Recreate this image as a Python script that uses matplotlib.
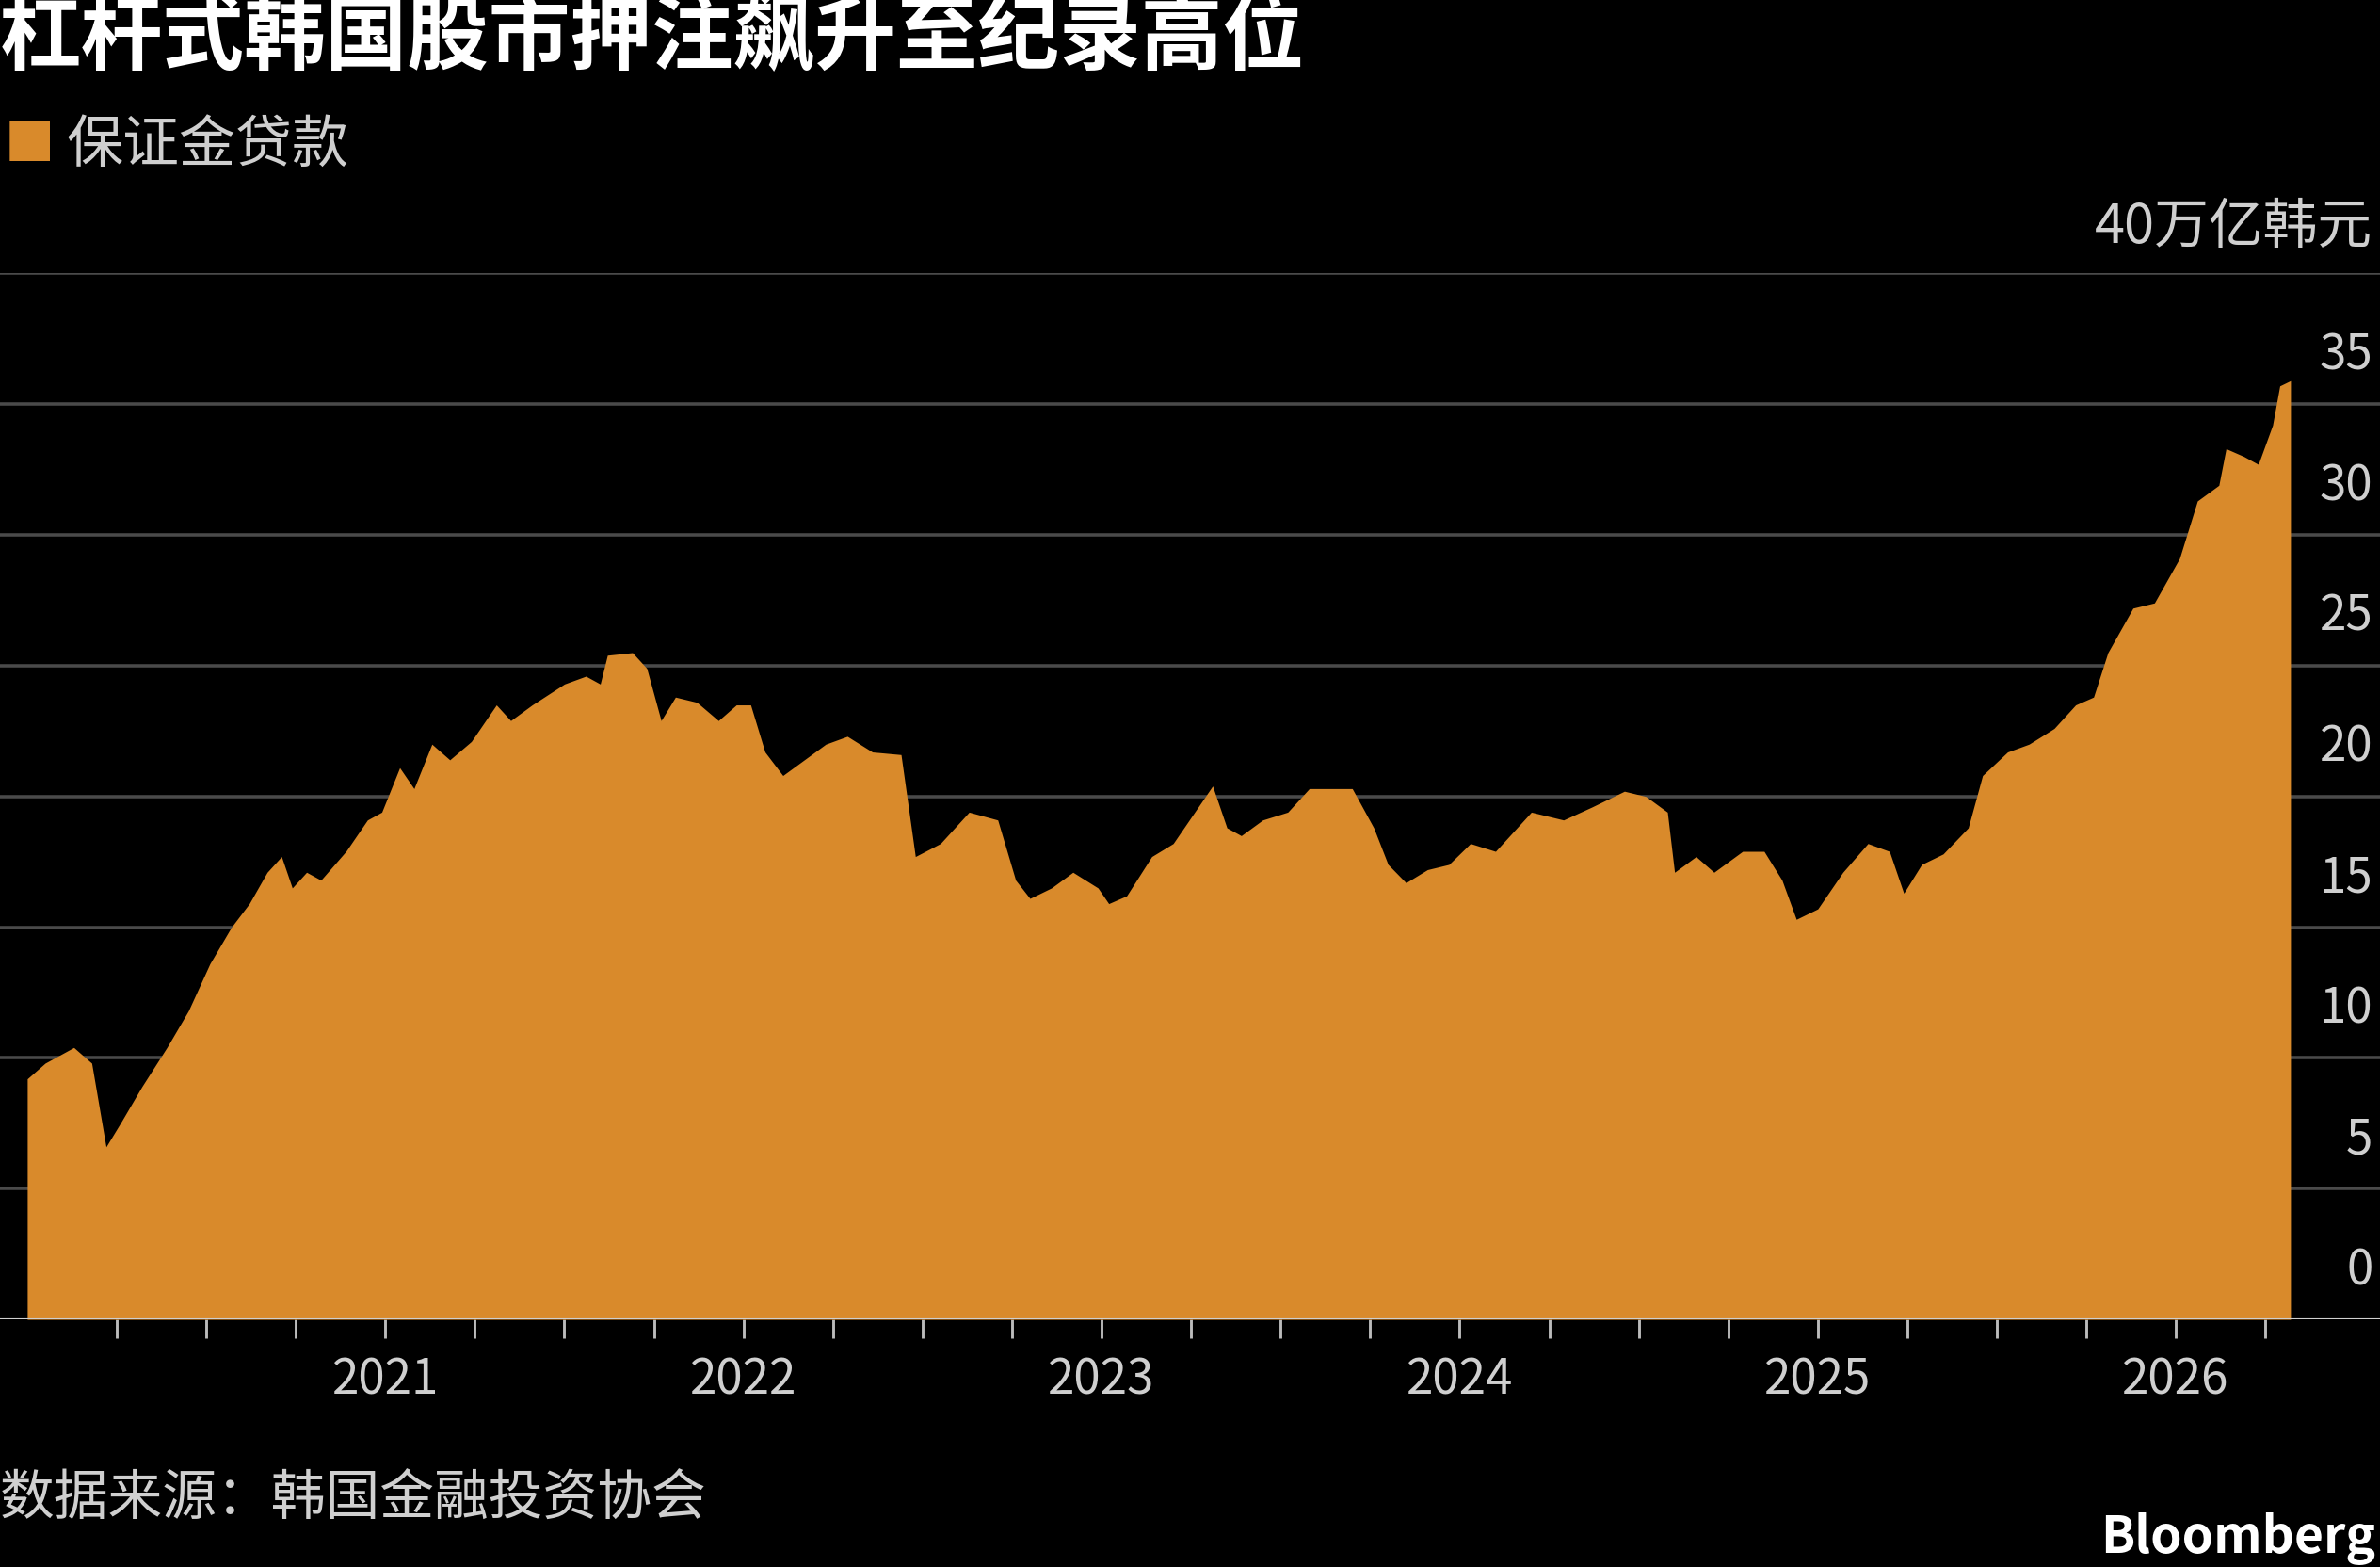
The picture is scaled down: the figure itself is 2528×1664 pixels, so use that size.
import matplotlib.pyplot as plt
import numpy as np

plt.rcParams['font.family'] = ['Noto Sans CJK SC', 'DejaVu Sans']

# decimal year, margin loans (trillion won)
years = [2020.00, 2020.05, 2020.13, 2020.18, 2020.22, 2020.26, 2020.32, 2020.39, 2020.45, 2020.51,
         2020.57, 2020.62, 2020.67, 2020.71, 2020.74, 2020.78, 2020.82, 2020.89, 2020.95, 2020.99,
         2021.04, 2021.08, 2021.13, 2021.18, 2021.24, 2021.31, 2021.35, 2021.41, 2021.50, 2021.56,
         2021.60, 2021.62, 2021.69, 2021.73, 2021.77, 2021.81, 2021.87, 2021.93, 2021.98, 2022.02,
         2022.06, 2022.11, 2022.17, 2022.23, 2022.29, 2022.36, 2022.44, 2022.48, 2022.55, 2022.63,
         2022.71, 2022.76, 2022.80, 2022.86, 2022.92, 2022.99, 2023.02, 2023.07, 2023.14, 2023.20,
         2023.26, 2023.31, 2023.35, 2023.39, 2023.45, 2023.52, 2023.58, 2023.64, 2023.70, 2023.76,
         2023.80, 2023.85, 2023.91, 2023.97, 2024.03, 2024.10, 2024.14, 2024.20, 2024.29, 2024.37,
         2024.46, 2024.52, 2024.58, 2024.60, 2024.66, 2024.71, 2024.79, 2024.85, 2024.90, 2024.94,
         2025.00, 2025.07, 2025.14, 2025.20, 2025.24, 2025.29, 2025.35, 2025.42, 2025.46, 2025.53,
         2025.59, 2025.66, 2025.72, 2025.77, 2025.81, 2025.88, 2025.94, 2026.01, 2026.06, 2026.12,
         2026.14, 2026.19, 2026.23, 2026.27, 2026.29, 2026.32]
loans = [9.2, 9.8, 10.4, 9.8, 6.6, 7.5, 8.9, 10.4, 11.8, 13.6,
         15.0, 15.9, 17.1, 17.7, 16.5, 17.1, 16.8, 17.9, 19.1, 19.4,
         21.1, 20.3, 22.0, 21.4, 22.1, 23.5, 22.9, 23.5, 24.3, 24.6,
         24.3, 25.4, 25.5, 24.9, 22.9, 23.8, 23.6, 22.9, 23.5, 23.5,
         21.7, 20.8, 21.4, 22.0, 22.3, 21.7, 21.6, 17.7, 18.2, 19.4,
         19.1, 16.8, 16.1, 16.5, 17.1, 16.5, 15.9, 16.2, 17.7, 18.2,
         19.4, 20.4, 18.8, 18.5, 19.1, 19.4, 20.3, 20.3, 20.3, 18.8,
         17.4, 16.7, 17.2, 17.4, 18.2, 17.9, 18.5, 19.4, 19.1, 19.6,
         20.2, 20.0, 19.4, 17.1, 17.7, 17.1, 17.9, 17.9, 16.8, 15.3,
         15.7, 17.1, 18.2, 17.9, 16.3, 17.4, 17.8, 18.8, 20.8, 21.7,
         22.0, 22.6, 23.5, 23.8, 25.5, 27.2, 27.4, 29.1, 31.3, 31.9,
         33.3, 33.0, 32.7, 34.2, 35.7, 35.9]
year_labels = ['2021', '2022', '2023', '2024', '2025', '2026']
y_ticks = [0, 5, 10, 15, 20, 25, 30, 35]

ORANGE = '#D98A2B'
GRID = '#4a4a4a'
TEXT = '#cfcfcf'

fig = plt.figure(figsize=(15.8, 10.4), dpi=160, facecolor='black')
ax = fig.add_axes([0, 0.158, 1, 0.6675], facecolor='black')

ax.fill_between(years, 0, loans, color=ORANGE, linewidth=0, zorder=2)
ax.set_xlim(2019.924, 2026.57)
ax.set_ylim(0, 40)

for v in y_ticks[1:] + [40]:
    ax.axhline(v, color=GRID, linewidth=1.6, zorder=1)
ax.axhline(0, color='#d0d0d0', linewidth=1.4, zorder=3)
for v in y_ticks:
    ax.text(0.997, v + 0.9, str(v), transform=ax.get_yaxis_transform(),
            ha='right', va='bottom', color=TEXT, fontsize=23, zorder=4)
ax.text(0.997, 40.7, '40万亿韩元', transform=ax.get_yaxis_transform(),
        ha='right', va='bottom', color=TEXT, fontsize=26)

ax.set_yticks([])
ax.set_xticks([int(y) for y in year_labels])
ax.set_xticklabels(year_labels, color=TEXT, fontsize=23)
ax.set_xticks(np.arange(2020.25, 2026.5, 0.25), minor=True)
ax.tick_params(axis='x', which='both', direction='out', length=9, width=1.3,
               color='#bbbbbb', pad=8)
for s in ax.spines.values():
    s.set_visible(False)

fig.text(0.0, 0.975, '杠杆式韩国股市押注飙升至纪录高位', color='white', fontsize=39,
         fontweight='bold', ha='left', va='center')
fig.text(0.002, 0.907, '■', color=ORANGE, fontsize=24, ha='left', va='center')
fig.text(0.028, 0.907, '保证金贷款', color=TEXT, fontsize=27, ha='left', va='center')
fig.text(0.0, 0.043, '数据来源：韩国金融投资协会', color=TEXT, fontsize=26, ha='left', va='center')
fig.text(0.998, 0.001, 'Bloomberg', color='white', fontsize=24, fontweight='bold',
         ha='right', va='bottom')

fig.savefig('out.png', dpi=160, facecolor='black')
